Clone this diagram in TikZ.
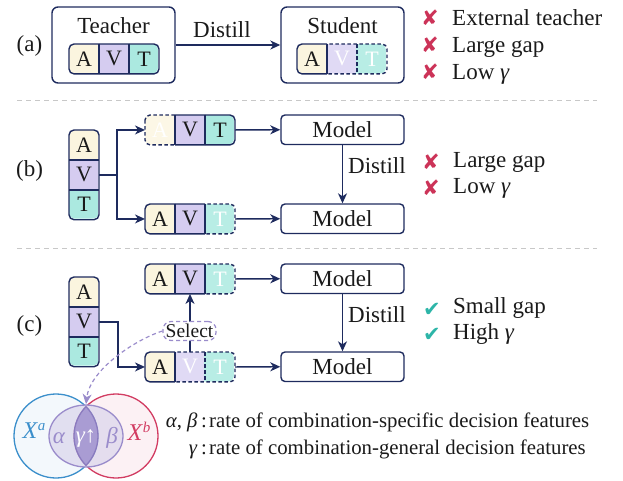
\documentclass[tikz,border=0pt]{standalone}
\usepackage{fontspec}
\setmainfont{Liberation Serif}
\newfontfamily\symfont{DejaVu Sans}
\usetikzlibrary{arrows.meta}

\definecolor{navy}{HTML}{1E2B5E}
\definecolor{ink}{HTML}{1A1A1A}
\definecolor{cA}{HTML}{FBF5DF}
\definecolor{cV}{HTML}{D5CCF0}
\definecolor{cT}{HTML}{ABE9E0}
\definecolor{cAf}{HTML}{FCF7E6}
\definecolor{cVf}{HTML}{E0DAF5}
\definecolor{cTf}{HTML}{B8EDE5}
\definecolor{badred}{HTML}{CC3358}
\definecolor{goodteal}{HTML}{2DB5A8}
\definecolor{selpurple}{HTML}{9A8CCB}
\definecolor{setblue}{HTML}{3B8FCB}
\definecolor{setred}{HTML}{D23C62}
\definecolor{lensfill}{HTML}{A99CD3}
\definecolor{lensline}{HTML}{8A7BBF}
\definecolor{sepgray}{HTML}{C8C8C8}

\tikzset{
  cell/.style={minimum width=29.6pt, minimum height=29.5pt, inner sep=0pt,
    font=\fontsize{22}{24}\selectfont},
  fA s/.style={fill=cA}, fA d/.style={fill=cAf},
  fV s/.style={fill=cV}, fV d/.style={fill=cVf},
  fT s/.style={fill=cT}, fT d/.style={fill=cTf},
  tx s/.style={text=ink}, tx d/.style={text=white},
  bd s/.style={draw=navy, line width=1.4pt, solid},
  bd d/.style={draw=navy, line width=1.4pt, dash pattern=on 3.5pt off 2.5pt},
  sep ss/.style={solid}, sep sd/.style={solid}, sep ds/.style={solid},
  sep dd/.style={dash pattern=on 3.5pt off 2.5pt},
  tip/.style={-{Stealth[length=10pt,width=9pt,inset=3pt]}},
  arr/.style={draw=navy, line width=1.4pt, tip},
  bigbox/.style={draw=navy, line width=1.4pt, rounded corners=6pt,
    minimum width=123pt, minimum height=76pt, inner sep=0pt},
  model/.style={draw=navy, line width=1.4pt, rounded corners=4pt, fill=white, text=ink,
    minimum width=123pt, minimum height=29.5pt, inner sep=0pt},
  lbl/.style={text=ink, inner sep=0pt},
  bad/.style={text=badred, inner sep=0pt, font=\symfont\bfseries\fontsize{21}{21}\selectfont},
  good/.style={text=goodteal, inner sep=0pt, font=\symfont\bfseries\fontsize{21}{21}\selectfont},
  rowsep/.style={draw=sepgray, line width=1pt, dash pattern=on 5pt off 4pt},
}

% horizontal A|V|T bar at top-left (#2,#3); #4-#6 are s (present) or d (missing)
\newcommand\avtrow[6]{%
  \begin{scope}
    \clip[rounded corners=5pt] (#2,#3) rectangle ({#2+88.8},{#3+29.5});
    \fill[fA #4] (#2,#3) rectangle ({#2+29.6},{#3+29.5});
    \fill[fV #5] ({#2+29.6},#3) rectangle ({#2+59.2},{#3+29.5});
    \fill[fT #6] ({#2+59.2},#3) rectangle ({#2+88.8},{#3+29.5});
  \end{scope}
  \node[cell, tx #4, anchor=north west] (#1A) at (#2,#3) {A};
  \node[cell, tx #5, anchor=west] (#1V) at (#1A.east) {V};
  \node[cell, tx #6, anchor=west] (#1T) at (#1V.east) {T};
  \begin{scope}
    \clip ([shift={(-3,-3)}]#1A.north west) rectangle ([shift={(0,3)}]#1A.south east);
    \draw[bd #4, rounded corners=5pt] (#1A.north west) rectangle (#1T.south east);
  \end{scope}
  \begin{scope}
    \clip ([shift={(0,-3)}]#1V.north west) rectangle ([shift={(0,3)}]#1V.south east);
    \draw[bd #5, rounded corners=5pt] (#1A.north west) rectangle (#1T.south east);
  \end{scope}
  \begin{scope}
    \clip ([shift={(0,-3)}]#1T.north west) rectangle ([shift={(3,3)}]#1T.south east);
    \draw[bd #6, rounded corners=5pt] (#1A.north west) rectangle (#1T.south east);
  \end{scope}
  \draw[navy, line width=1.4pt, sep #4#5] (#1A.north east) -- (#1A.south east);
  \draw[navy, line width=1.4pt, sep #5#6] (#1V.north east) -- (#1V.south east);
}

% vertical A/V/T stack at top-left (#2,#3), all modalities present
\newcommand\avtcol[3]{%
  \begin{scope}
    \clip[rounded corners=5pt] (#2,#3) rectangle ({#2+29.6},{#3+88.5});
    \fill[cA] (#2,#3) rectangle ({#2+29.6},{#3+29.5});
    \fill[cV] (#2,{#3+29.5}) rectangle ({#2+29.6},{#3+59});
    \fill[cT] (#2,{#3+59}) rectangle ({#2+29.6},{#3+88.5});
  \end{scope}
  \node[cell, tx s, anchor=north west] (#1A) at (#2,#3) {A};
  \node[cell, tx s, anchor=north] (#1V) at (#1A.south) {V};
  \node[cell, tx s, anchor=north] (#1T) at (#1V.south) {T};
  \draw[bd s, rounded corners=5pt] (#1A.north west) rectangle (#1T.south east);
  \draw[navy, line width=1.4pt] (#1A.south west) -- (#1A.south east);
  \draw[navy, line width=1.4pt] (#1V.south west) -- (#1V.south east);
}

\begin{document}
\begin{tikzpicture}[x=1pt, y=-1pt, font=\fontsize{23}{26}\selectfont]
\useasboundingbox (0,0) rectangle (623,480);

% ---------- (a) ----------
\node[lbl] (la) at (29.5,46) {(a)};
\node[bigbox] (teacher) at (113.5,45) {};
\node[bigbox] (student) at (342.5,45) {};
\node[lbl, anchor=base] (teachert) at (113.5,33) {Teacher};
\node[lbl, anchor=base] (studentt) at (342.5,33) {Student};
\avtrow{ta}{69}{44}{s}{s}{s}
\avtrow{sa}{297}{44}{s}{d}{d}
\draw[arr] (teacher.east) -- (student.west);
\node[lbl, anchor=base] (dista) at (222,37) {Distill};

\node[bad] (xa1) at (430,18) {✘};
\node[bad] (xa2) at (430,45) {✘};
\node[bad] (xa3) at (430,72) {✘};
\node[lbl, anchor=base west] (ta1) at (452,25) {External teacher};
\node[lbl, anchor=base west] (ta2) at (452,52) {Large gap};
\node[lbl, anchor=base west] (ta3) at (452,79) {Low \textit{γ}};

\coordinate (s1l) at (17,100);
\coordinate (s1r) at (597,100);
\draw[rowsep] (s1l) -- (s1r);

% ---------- (b) ----------
\node[lbl] (lb) at (29.5,171) {(b)};
\avtcol{bv}{69}{130}
\avtrow{bt}{145}{115}{d}{s}{s}
\avtrow{bb}{145}{204}{s}{s}{d}
\node[model] (bm1) at (342.5,129.75) {Model};
\node[model] (bm2) at (342.5,218.75) {Model};
\draw[arr] (bvV.east) -- ++(18,0) |- (btA.west);
\draw[arr] (bvV.east) -- ++(18,0) |- (bbA.west);
\draw[arr] (btT.east) -- (bm1.west);
\draw[arr] (bbT.east) -- (bm2.west);
\draw[arr] (bm1.south) -- (bm2.north);
\node[lbl, anchor=base west] (distb) at (348,173) {Distill};

\node[bad] (xb1) at (431,162) {✘};
\node[bad] (xb2) at (431,188) {✘};
\node[lbl, anchor=base west] (tb1) at (453,167) {Large gap};
\node[lbl, anchor=base west] (tb2) at (453,193) {Low \textit{γ}};

\coordinate (s2l) at (17,248);
\coordinate (s2r) at (597,248);
\draw[rowsep] (s2l) -- (s2r);

% ---------- (c) ----------
\node[lbl] (lc) at (29.5,326) {(c)};
\avtcol{cv}{69}{277}
\avtrow{ct}{145}{264}{s}{s}{d}
\avtrow{cb}{145}{352}{s}{d}{d}
\node[model] (cm1) at (342.5,278.75) {Model};
\node[model] (cm2) at (342.5,366.75) {Model};
\draw[arr] (cvV.east) -- ++(19,0) |- (cbA.west);
\draw[arr] (ctT.east) -- (cm1.west);
\draw[arr] (cbT.east) -- (cm2.west);
\draw[arr] (cm1.south) -- (cm2.north);
\node[lbl, anchor=base west] (distc) at (348,322) {Distill};
\draw[arr] (cbV.north) -- (ctV.south);
\node[draw=selpurple, line width=1.2pt, dash pattern=on 4pt off 3pt, fill=white,
      rounded corners=8pt, text=ink, inner sep=1.5pt, minimum height=19pt,
      minimum width=53pt, font=\fontsize{19.5}{21}\selectfont] (sel) at (189.5,331) {Select};

\node[good] (cc1) at (432,310) {✔};
\node[good] (cc2) at (432,335) {✔};
\node[lbl, anchor=base west] (tc1) at (453,313) {Small gap};
\node[lbl, anchor=base west] (tc2) at (453,339) {High \textit{γ}};

% ---------- Venn diagram of decision features ----------
\fill[setblue!6] (56,436) circle (42);
\fill[setred!7] (116,436) circle (42);
\draw[setblue, line width=1.3pt] (56,436) circle (42);
\draw[setred, line width=1.3pt] (116,436) circle (42);
\fill[selpurple!35, opacity=0.75] (86,436) ellipse (37 and 31);
\draw[selpurple, line width=1.3pt] (86,436) ellipse (37 and 31);
\begin{scope}
  \clip (56,436) circle (42);
  \fill[lensfill] (116,436) circle (42);
  \draw[lensline, line width=1.3pt] (116,436) circle (42);
\end{scope}
\begin{scope}
  \clip (116,436) circle (42);
  \draw[lensline, line width=1.3pt] (56,436) circle (42);
\end{scope}
\node[lbl, text=setblue] (xa) at (34,431) {\fontsize{24}{26}\selectfont\textit{X}\raisebox{8pt}{\fontsize{15}{15}\selectfont\textit{a}}};
\node[lbl, text=setred] (xb) at (139,431) {\fontsize{24}{26}\selectfont\textit{X}\raisebox{8pt}{\fontsize{15}{15}\selectfont\textit{b}}};
\node[lbl, text=selpurple] (al) at (59,438) {\textit{α}};
\node[lbl, text=selpurple] (be) at (112,438) {\textit{β}};
\node[lbl, text=white] (ga) at (86,438) {\textit{γ}\kern-1pt↑};
\coordinate (vtop) at (86,404);
\draw[selpurple, line width=1.2pt, dash pattern=on 4pt off 3pt, tip]
  (sel.west) .. controls +(-28,9) and +(4,-34) .. (vtop);

% legend
\begin{scope}[font=\fontsize{20.8}{24}\selectfont]
\node[lbl, anchor=base east] (lg1a) at (207,427) {\textit{α}, \textit{β}\,:};
\node[lbl, anchor=base west] (lg1b) at (209,427) {rate of combination-specific decision features};
\node[lbl, anchor=base east] (lg2a) at (207,454) {\textit{γ}\,:};
\node[lbl, anchor=base west] (lg2b) at (209,454) {rate of combination-general decision features};
\end{scope}
\end{tikzpicture}
\end{document}
